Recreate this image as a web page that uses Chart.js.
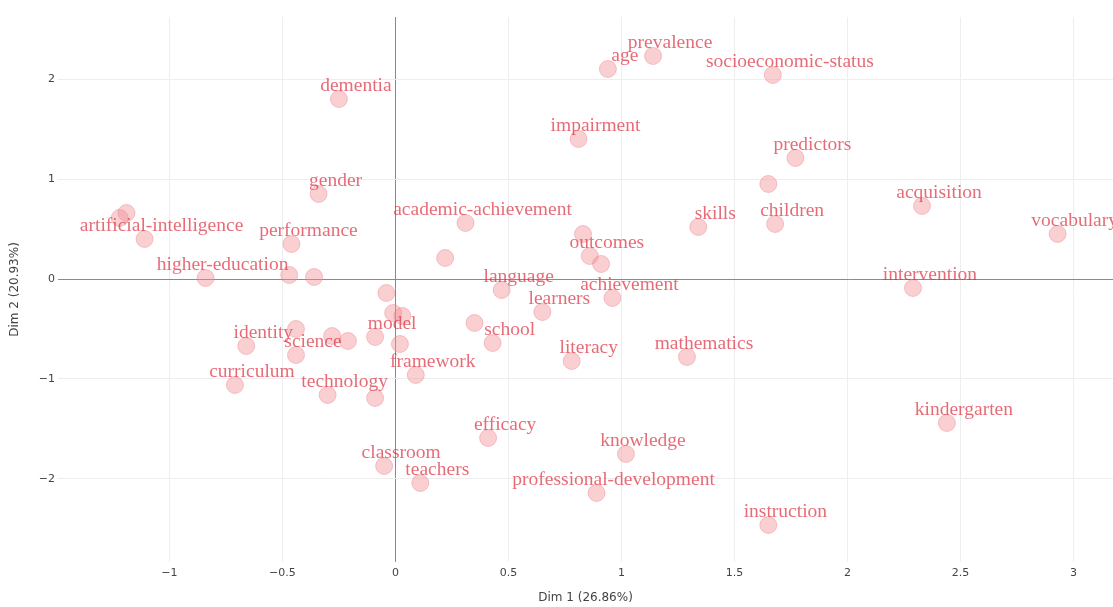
<!DOCTYPE html>
<html>
<head>
<meta charset="utf-8">
<script src="https://cdn.jsdelivr.net/npm/chart.js@4.4.1/dist/chart.umd.min.js"></script>
<style>
  html, body { margin: 0; padding: 0; background: #fff; }
  #wrap { width: 1113px; height: 607px; }
</style>
</head>
<body>
<div id="wrap"><canvas id="caChart"></canvas></div>
<script>
// words (empty string = point without a label)
const words = [
  "", "", "artificial-intelligence", "dementia", "gender", "performance",
  "higher-education", "", "", "", "", "", "", "model", "", "", "identity",
  "science", "", "", "curriculum", "technology", "", "framework", "", "school",
  "academic-achievement", "", "outcomes", "", "language", "learners",
  "achievement", "age", "prevalence", "socioeconomic-status", "impairment", "",
  "skills", "children", "predictors", "acquisition", "vocabulary",
  "intervention", "literacy", "mathematics", "efficacy", "knowledge",
  "classroom", "teachers", "professional-development", "instruction",
  "kindergarten"
];

const dim1 = [
  -1.22, -1.19, -1.11, -0.25, -0.34, -0.46,
  -0.84, -0.47, -0.36, -0.04, 0.22, -0.01, 0.03, -0.09, 0.02, -0.44, -0.66,
  -0.44, -0.28, -0.21, -0.71, -0.30, -0.09, 0.09, 0.35, 0.43,
  0.31, 0.83, 0.86, 0.91, 0.47, 0.65,
  0.96, 0.94, 1.14, 1.67, 0.81, 1.65,
  1.34, 1.68, 1.77, 2.33, 2.93,
  2.29, 0.78, 1.29, 0.41, 1.02,
  -0.05, 0.11, 0.89, 1.65,
  2.44
];

const dim2 = [
  0.61, 0.66, 0.40, 1.80, 0.85, 0.35,
  0.01, 0.04, 0.02, -0.14, 0.21, -0.34, -0.37, -0.58, -0.65, -0.50, -0.67,
  -0.76, -0.57, -0.62, -1.06, -1.16, -1.19, -0.96, -0.44, -0.64,
  0.56, 0.45, 0.23, 0.15, -0.11, -0.33,
  -0.19, 2.10, 2.23, 2.04, 1.40, 0.95,
  0.52, 0.55, 1.21, 0.73, 0.45,
  -0.09, -0.82, -0.78, -1.59, -1.75,
  -1.87, -2.04, -2.14, -2.46,
  -1.44
];

const xTitle = "Dim 1 (26.86%)";
const yTitle = "Dim 2 (20.93%)";

const points = dim1.map((x, i) => ({ x: x, y: dim2[i], word: words[i] }));

function fmt(v) {
  const r = Math.round(v * 10) / 10;
  return (r < 0 ? "\u2212" : "") + Math.abs(r);
}

// words drawn next to each point
const wordLabels = {
  id: "wordLabels",
  afterDatasetsDraw(chart) {
    const ctx = chart.ctx;
    const meta = chart.getDatasetMeta(0);
    ctx.save();
    ctx.font = "19.5px 'Liberation Serif', 'Times New Roman', serif";
    ctx.fillStyle = "rgba(222, 50, 66, 0.72)";
    ctx.textAlign = "center";
    ctx.textBaseline = "middle";
    meta.data.forEach((el, i) => {
      const w = points[i].word;
      if (!w) return;
      ctx.fillText(w, el.x + 17, el.y - 13);
    });
    ctx.restore();
  }
};

const gridColor = ctx => (ctx.tick && ctx.tick.value === 0) ? "#8a8a8a" : "#eeeeee";

new Chart(document.getElementById("caChart"), {
  type: "scatter",
  data: {
    datasets: [{
      data: points,
      pointRadius: 8.5,
      pointHoverRadius: 8.5,
      backgroundColor: "rgba(240, 140, 148, 0.42)",
      borderColor: "rgba(232, 125, 135, 0.4)",
      borderWidth: 1
    }]
  },
  options: {
    responsive: true,
    maintainAspectRatio: false,
    animation: false,
    layout: { autoPadding: false, padding: { top: 17, left: 0, right: 0, bottom: 0 } },
    plugins: {
      legend: { display: false },
      tooltip: { enabled: false }
    },
    scales: {
      x: {
        type: "linear",
        min: -1.493,
        max: 3.175,
        afterFit: s => {
          s.height = 45;
          s.paddingLeft = 0;
          s.paddingRight = 0;
        },
        border: { display: false },
        grid: { color: gridColor, drawTicks: false, lineWidth: 1 },
        ticks: {
          stepSize: 0.5,
          includeBounds: false,
          padding: 5,
          color: "#444",
          font: { family: "'DejaVu Sans', sans-serif", size: 11 },
          callback: v => fmt(v)
        },
        title: {
          display: true,
          text: xTitle,
          color: "#444",
          padding: { top: 0, bottom: 2 },
          font: { family: "'DejaVu Sans', sans-serif", size: 12 }
        }
      },
      y: {
        type: "linear",
        min: -2.83,
        max: 2.62,
        afterFit: s => {
          s.width = 58;
          s.paddingTop = 0;
          s.paddingBottom = 0;
        },
        border: { display: false },
        grid: { color: gridColor, drawTicks: false, lineWidth: 1 },
        ticks: {
          stepSize: 1,
          includeBounds: false,
          padding: 3,
          color: "#444",
          font: { family: "'DejaVu Sans', sans-serif", size: 11 },
          callback: v => fmt(v)
        },
        title: {
          display: true,
          text: yTitle,
          color: "#444",
          padding: { top: 8, bottom: 0 },
          font: { family: "'DejaVu Sans', sans-serif", size: 12 }
        }
      }
    }
  },
  plugins: [wordLabels]
});
</script>
</body>
</html>
